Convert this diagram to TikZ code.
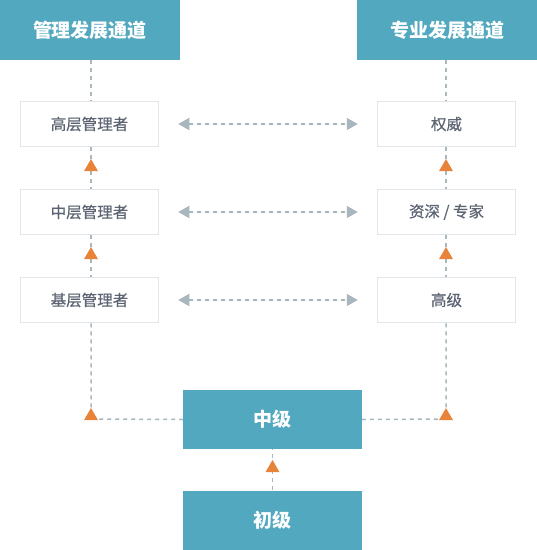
\documentclass[tikz,border=0pt]{standalone}
\usepackage{fontspec}
\setmainfont{Noto Sans CJK SC}
\newfontfamily\medfont{Noto Sans CJK SC}[FakeBold=0.6]
\usetikzlibrary{arrows.meta,shapes.geometric}
\definecolor{teal}{HTML}{52A9BF}
\definecolor{boxline}{HTML}{E2E6EA}
\definecolor{txt}{HTML}{5C6472}
\definecolor{dash}{HTML}{A7B7BD}
\definecolor{orng}{HTML}{E8843A}
\begin{document}
\begin{tikzpicture}[x=1pt,y=-1pt,
  header/.style={fill=teal,draw=none,minimum width=180pt,minimum height=60pt,inner sep=0pt,text=white,font=\fontsize{19}{22}\selectfont\bfseries},
  lvl/.style={fill=teal,draw=none,minimum width=179pt,minimum height=59pt,inner sep=0pt,text=white,font=\fontsize{19}{22}\selectfont\bfseries},
  rolebox/.style={fill=white,draw=boxline,line width=1.5pt,minimum width=138pt,minimum height=45pt,inner sep=0pt,text=txt,font=\fontsize{15.5}{18}\selectfont\medfont},
  dline/.style={draw=dash,line width=1.5pt,dash pattern=on 4pt off 4pt},
  harrow/.style={dline,{Triangle[width=12pt,length=11pt]}-{Triangle[width=12pt,length=11pt]},fill=dash},
  tri/.style={regular polygon,regular polygon sides=3,fill=orng,draw=none,minimum size=16pt,inner sep=0pt}
]
\useasboundingbox (0,0) rectangle (537,550);
\fill[white] (0,0) rectangle (537,550);
% headers
\node[header] (hl) at (90,30) {管理发展通道};
\node[header] (hr) at (447,30) {专业发展通道};
% role boxes
\node[rolebox] (l1) at (89.5,124) {高层管理者};
\node[rolebox] (l2) at (89.5,212) {中层管理者};
\node[rolebox] (l3) at (89.5,300) {基层管理者};
\node[rolebox] (r1) at (446.5,124) {权威};
\node[rolebox] (r2) at (446.5,212) {资深 / 专家};
\node[rolebox] (r3) at (446.5,300) {高级};
% level boxes
\node[lvl] (mid) at (272.5,419.5) {中级};
\node[lvl] (jun) at (272.5,520) {初级};
% corner coordinates
\coordinate (cl) at (91,419);
\coordinate (cr) at (446,419);
% vertical dashed lines
\draw[dline] (hl.south -| 91,0) -- (l1.north -| 91,0);
\draw[dline] (l1.south -| 91,0) -- (l2.north -| 91,0);
\draw[dline] (l2.south -| 91,0) -- (l3.north -| 91,0);
\draw[dline] (l3.south -| 91,0) -- (cl) -- (mid.west);
\draw[dline] (hr.south -| 446,0) -- (r1.north -| 446,0);
\draw[dline] (r1.south -| 446,0) -- (r2.north -| 446,0);
\draw[dline] (r2.south -| 446,0) -- (r3.north -| 446,0);
\draw[dline] (r3.south -| 446,0) -- (cr) -- (mid.east);
\draw[dline] (jun.north) -- (mid.south);
% horizontal double arrows
\path (l1.east) ++(19,0) coordinate (a1s);
\path (r1.west) ++(-19,0) coordinate (b1s);
\path (l2.east) ++(19,0) coordinate (a2s);
\path (r2.west) ++(-19,0) coordinate (b2s);
\path (l3.east) ++(19,0) coordinate (a3s);
\path (r3.west) ++(-19,0) coordinate (b3s);
\draw[harrow] (a1s) -- (b1s);
\draw[harrow] (a2s) -- (b2s);
\draw[harrow] (a3s) -- (b3s);
% orange triangles
\node[tri] (t1) at (91,167) {};
\node[tri] (t2) at (91,255) {};
\node[tri] (t3) at (446,167) {};
\node[tri] (t4) at (446,255) {};
\node[tri] (t5) at (91,416) {};
\node[tri] (t6) at (446,416) {};
\node[tri] (t7) at (272.5,468) {};
\end{tikzpicture}
\end{document}
